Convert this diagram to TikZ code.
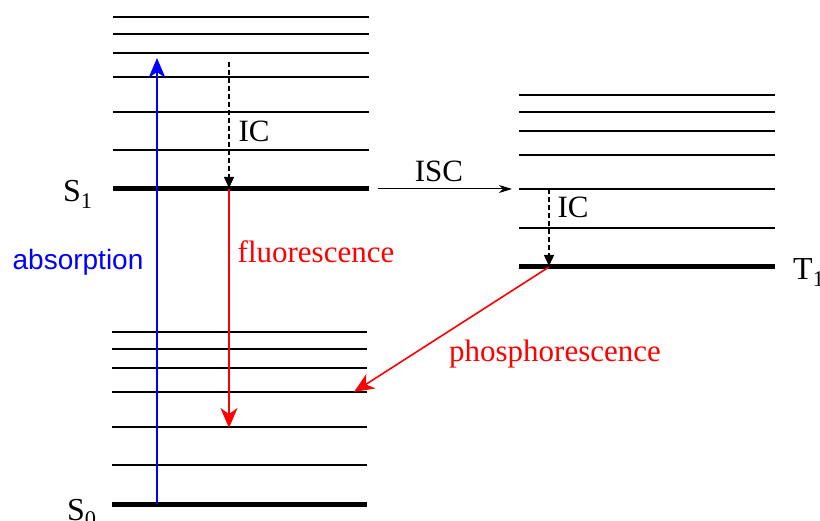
\documentclass[tikz,border=0pt]{standalone}
\usepackage{fontspec}
\setmainfont{Liberation Serif}
\newfontfamily\absfont{Liberation Sans}
\usetikzlibrary{arrows.meta}
\begin{document}
\begin{tikzpicture}[x=1pt,y=-1pt,
  level/.style={line width=1.5pt},
  ground/.style={line width=5pt},
  lbl/.style={anchor=base,inner sep=0pt,font=\fontsize{31}{31}\selectfont},
  statelbl/.style={anchor=base west,inner sep=0pt,font=\fontsize{32}{32}\selectfont},
  bigtip/.style={line width=1.6pt,-{Stealth[length=20pt,width=17pt,inset=6pt]}},
  dashtip/.style={line width=1.4pt,dash pattern=on 5pt off 3pt,-{Triangle[length=11pt,width=10pt]}},
  isctip/.style={line width=1pt,-{Stealth[length=13pt,width=8pt,inset=4pt]}}]
\useasboundingbox (0,0) rectangle (820,521);
\clip (0,0) rectangle (820,521);
% left upper stack (S1 vibrational levels)
\foreach \y in {17,34,53,77,112,150} \draw[level] (113,\y) -- (369,\y);
\draw[ground] (113,189) -- (369,189);
% left lower stack (S0 vibrational levels)
\foreach \y in {332,349,368,392,427,465} \draw[level] (112,\y) -- (367,\y);
\draw[ground] (112,504) -- (367,504);
% right stack (T1)
\foreach \y in {95,112,131,155,189,228} \draw[level] (519,\y) -- (775,\y);
\draw[ground] (519,267) -- (775,267);
% state labels
\node[statelbl] (s1) at (63,202) {S\textsubscript{1}};
\node[statelbl] (s0) at (67,520) {S\textsubscript{0}};
\node[statelbl] (t1) at (793,280) {T\textsubscript{1}};
% key coordinates
\coordinate (absA) at (157,504);
\coordinate (absB) at (157,58);
\coordinate (icA) at (229,62);
\coordinate (icB) at (229,188);
\coordinate (flA) at (229,189);
\coordinate (flB) at (229,428);
\coordinate (iscA) at (378,189);
\coordinate (iscB) at (512,189);
\coordinate (ic2A) at (549,189);
\coordinate (ic2B) at (549,266);
\coordinate (phA) at (549,267);
\coordinate (phB) at (354,392);
% transitions
\draw[bigtip,blue] (absA) -- (absB);
\draw[dashtip] (icA) -- (icB);
\draw[bigtip,red] (flA) -- (flB);
\draw[isctip] (iscA) -- (iscB);
\draw[dashtip] (ic2A) -- (ic2B);
\draw[bigtip,red] (phA) -- (phB);
% labels
\node[lbl,font=\absfont\fontsize{28}{28}\selectfont,text=blue] (labs) at (78,270) {absorption};
\node[lbl,text=red] (lfl) at (316,263) {fluorescence};
\node[lbl,text=red] (lph) at (555,362) {phosphorescence};
\node[lbl] (lic1) at (254,142) {IC};
\node[lbl] (lic2) at (573,218) {IC};
\node[lbl] (lisc) at (439,182) {ISC};
\end{tikzpicture}
\end{document}
